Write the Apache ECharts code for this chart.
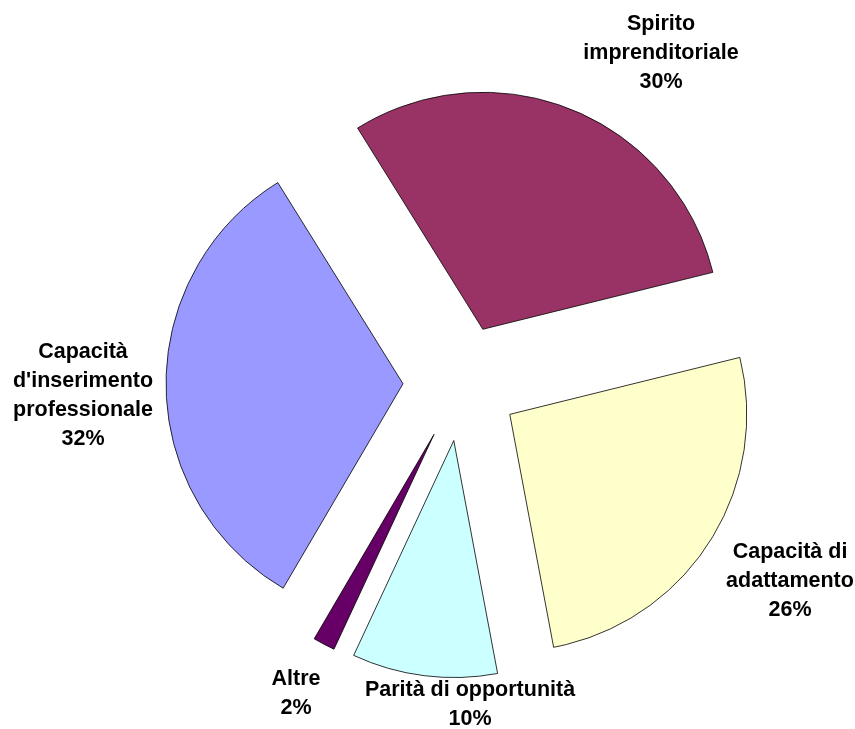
<!DOCTYPE html>
<html>
<head>
<meta charset="utf-8">
<script src="https://cdn.jsdelivr.net/npm/echarts@6/dist/echarts.min.js"></script>
<style>html,body{margin:0;padding:0;background:#fff}#c{width:855px;height:729px}</style>
</head>
<body>
<div id="c"></div>
<script>
const categories = ["Spirito\nimprenditoriale", "Capacità di\nadattamento", "Parità di opportunità", "Altre", "Capacità\nd'inserimento\nprofessionale"];
const values = [30.0, 25.9, 9.9, 1.5, 32.7];
const percentLabels = ["30%", "26%", "10%", "2%", "32%"];
const colors = ["#993366", "#FFFFCC", "#CCFFFF", "#660066", "#9999FF"];
const labelPos = [[661, 53], [790, 581], [470, 705], [296, 694], [83, 396]];

const chart = echarts.init(document.getElementById('c'), null, {renderer: 'canvas'});
const data = categories.map((n, i) => ({
  name: n, value: values[i], selected: true,
  itemStyle: {color: colors[i], borderColor: '#000', borderWidth: 0.8}
}));
const labels = categories.map((n, i) => ({
  type: 'text',
  x: labelPos[i][0],
  y: labelPos[i][1],
  silent: true,
  style: {
    text: n + '\n' + percentLabels[i],
    font: 'bold 21.5px "Liberation Sans", Arial, sans-serif',
    fill: '#000',
    align: 'center',
    verticalAlign: 'middle',
    lineHeight: 29
  }
}));
chart.setOption({
  animation: false,
  backgroundColor: '#fff',
  graphic: {elements: labels},
  series: [{
    type: 'pie',
    center: [461, 383],
    radius: [0, 237],
    startAngle: 121.9,
    clockwise: true,
    selectedMode: 'multiple',
    selectedOffset: 58,
    data: data,
    label: {show: false},
    labelLine: {show: false},
    emphasis: {disabled: true},
    select: {itemStyle: {borderColor: '#000', borderWidth: 0.8}}
  }]
});
</script>
</body>
</html>
